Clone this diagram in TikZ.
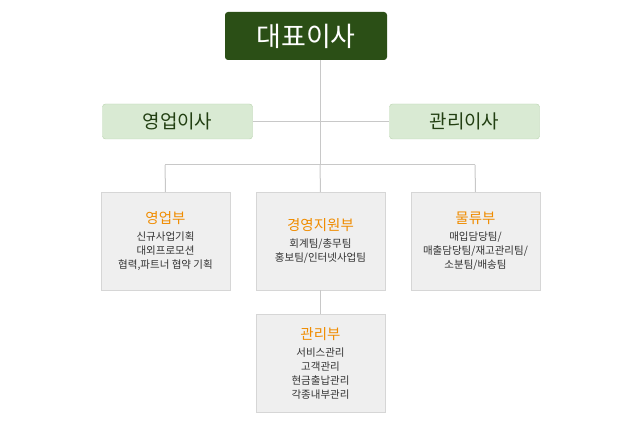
\documentclass[tikz,border=0pt]{standalone}
\usepackage{fontspec}
\setmainfont{Noto Sans CJK KR}
\usetikzlibrary{positioning}
\definecolor{ceo}{HTML}{2B4F16}
\definecolor{exec}{HTML}{D9EAD3}
\definecolor{execline}{HTML}{B9D3AE}
\definecolor{dept}{HTML}{EFEFEF}
\definecolor{deptline}{HTML}{D6D6D6}
\definecolor{title}{HTML}{F08C00}
\definecolor{wire}{HTML}{C8C8C8}
\tikzset{
  ceobox/.style={fill=ceo, rounded corners=3pt, minimum width=162pt, minimum height=48pt, text=white, font=\fontsize{27}{30}\selectfont},
  execbox/.style={fill=exec, draw=execline, rounded corners=3pt, minimum width=150pt, minimum height=35pt, text=ceo!80!black, font=\fontsize{19}{22}\selectfont},
  deptbox/.style={fill=dept, draw=deptline, minimum width=129pt, minimum height=98pt, anchor=north, align=center, font=\fontsize{10.5}{14}\selectfont, text=black!80},
  wireline/.style={draw=wire, line width=1pt}
}
\newcommand{\depttitle}[1]{{\fontsize{14.5}{22}\selectfont\color{title}#1}\\[3pt]}
\begin{document}
\begin{tikzpicture}[x=1pt,y=-1pt]
  \useasboundingbox (0,0) rectangle (640,427);
  % boxes
  \node[ceobox] (ceo) at (306,36) {대표이사};
  \node[execbox] (sales) at (177.5,121.5) {영업이사};
  \node[execbox] (admin) at (464.5,121.5) {관리이사};
  \coordinate (hub) at (320,165);
  \coordinate (left) at (165,165);
  \coordinate (right) at (475,165);
  \node[deptbox] (salesdept) at (165.5,192) {\depttitle{영업부}신규사업기획\\대외프로모션\\협력,파트너 협약 기획};
  \node[deptbox] (support) at (320.5,192) {\depttitle{경영지원부}회계팀/총무팀\\홍보팀/인터넷사업팀};
  \node[deptbox] (logis) at (475.5,192) {\depttitle{물류부}매입담당팀/\\매출담당팀/재고관리팀/\\소분팀/배송팀};
  \node[deptbox] (mgmt) at (320.5,314) {\depttitle{관리부}서비스관리\\고객관리\\현금출납관리\\각종내부관리};
  % lines
  \draw[wireline] (320,60) -- (hub);
  \draw[wireline] (sales.east) -- (admin.west);
  \draw[wireline] (left) -- (right);
  \draw[wireline] (left) -- (salesdept.north);
  \draw[wireline] (hub) -- (support.north);
  \draw[wireline] (right) -- (logis.north);
  \draw[wireline] (support.south) -- (mgmt.north);
\end{tikzpicture}
\end{document}
